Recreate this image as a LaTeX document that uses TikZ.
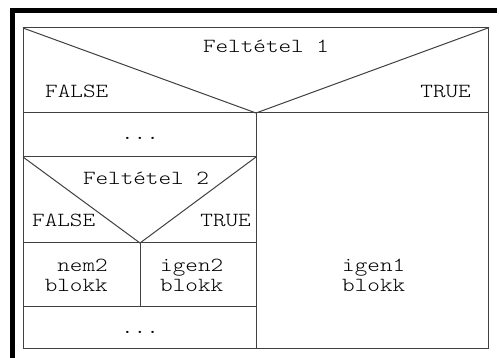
\documentclass[tikz,border=0pt]{standalone}
\usepackage{fontspec}
\setmonofont{lmmonolt10-regular.otf}[FakeStretch=1.2]
\begin{document}
\begin{tikzpicture}[x=1pt,y=-1pt,
  grid/.style={draw=black!75,line width=1pt},
  lbl/.style={font=\fontsize{20}{20}\selectfont\ttfamily,inner sep=0pt,text=black}]
\useasboundingbox (0,0) rectangle (499,358);
\fill[white] (0,0) rectangle (499,358);
% thick frame on the left and top
\fill[black] (10,8) rectangle (15,358);
\fill[black] (10,8) rectangle (497,13);
% corner points of the structogram
\coordinate (tl) at (23,28);
\coordinate (tr) at (488,28);
\coordinate (bl) at (23,349);
\coordinate (br) at (488,349);
\coordinate (v1) at (256,113);
\coordinate (l1) at (23,113);
\coordinate (r1) at (488,113);
\coordinate (l2) at (23,157);
\coordinate (m2) at (256,157);
\coordinate (v2) at (140,243);
\coordinate (l3) at (23,243);
\coordinate (m3) at (256,243);
\coordinate (v3) at (140,307);
\coordinate (l4) at (23,307);
\coordinate (m4) at (256,307);
\coordinate (m5) at (256,349);
% outline and branches
\draw[grid] (tl) rectangle (br);
\draw[grid] (tl) -- (v1) -- (tr);
\draw[grid] (l1) -- (r1);
\draw[grid] (v1) -- (m5);
\draw[grid] (l2) -- (m2);
\draw[grid] (l2) -- (v2) -- (m2);
\draw[grid] (l3) -- (m3);
\draw[grid] (v2) -- (v3);
\draw[grid] (l4) -- (m4);
% labels
\node[lbl,anchor=base] (c1) at (266,53) {Feltétel 1};
\node[lbl,anchor=base west] (f1) at (45,98) {FALSE};
\node[lbl,anchor=base east] (t1) at (471,98) {TRUE};
\node[lbl,anchor=base] (d1) at (140,140) {\textbf{...}};
\node[lbl,anchor=base] (c2) at (146,185) {Feltétel 2};
\node[lbl,anchor=base west] (f2) at (32,227) {FALSE};
\node[lbl,anchor=base east] (t2) at (251,227) {TRUE};
\node[lbl,anchor=base east,align=right] (n2) at (108,292) {nem2\\blokk};
\node[lbl,anchor=base west,align=left] (i2) at (160,292) {igen2\\blokk};
\node[lbl,anchor=base west,align=left] (i1) at (342,292) {igen1\\blokk};
\node[lbl,anchor=base] (d2) at (140,334) {\textbf{...}};
\end{tikzpicture}
\end{document}
